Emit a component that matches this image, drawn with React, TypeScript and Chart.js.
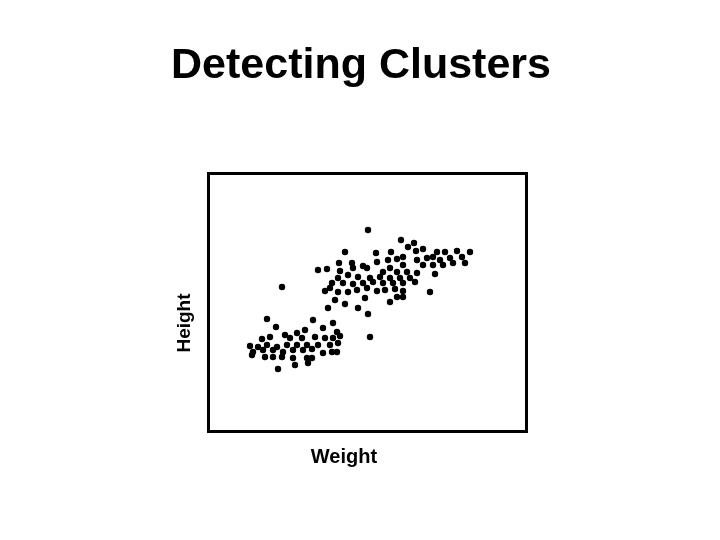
import React, { useEffect, useRef } from "react";
import { Chart, registerables } from "chart.js";

Chart.register(...registerables);

const titleText = "Detecting Clusters";
const xLabel = "Weight";
const yLabel = "Height";

// Weight / height in arbitrary units
const weights: number[] = [
  368, 401, 414, 345, 376, 391, 408, 423, 416, 403, 437, 445, 457, 470,
  318, 327, 339, 352, 363, 377, 388, 397, 417, 427, 433, 440, 450, 462, 465, 453, 443, 433, 423, 403,
  390, 383, 397, 407, 417, 435, 340, 353, 367, 338, 348, 358, 370, 380, 390, 400, 410,
  332, 343, 353, 363, 373, 383, 393, 403, 415, 325, 330, 338, 348, 357, 367, 377, 385, 395, 403, 430,
  335, 345, 365, 390, 397, 403, 328, 358, 368, 370, 282,
  267, 313, 333, 276, 323, 305, 337, 285, 297, 270, 262, 290, 302, 315, 325, 333, 340,
  250, 258, 267, 277, 287, 297, 307, 318, 330, 338, 253, 263, 273, 283, 293, 303, 312, 332, 323, 337,
  252, 265, 273, 282, 293, 307, 295, 312, 308, 278,
];
const heights: number[] = [
  310, 300, 297, 288, 287, 288, 293, 291, 289, 283, 288, 288, 289, 288,
  270, 271, 277, 277, 274, 278, 280, 281, 280, 282, 283, 280, 282, 283, 277, 277, 275, 275, 275, 275,
  272, 268, 268, 268, 267, 266, 269, 272, 272, 262, 265, 263, 262, 263, 262, 262, 262,
  257, 257, 256, 257, 258, 257, 257, 257, 258, 249, 252, 248, 248, 250, 252, 249, 250, 251, 249, 248,
  240, 236, 242, 238, 243, 243, 232, 232, 226, 203, 253,
  221, 220, 217, 213, 212, 210, 208, 205, 207, 203, 201, 202, 202, 203, 202, 202, 204,
  194, 193, 195, 193, 195, 195, 195, 195, 195, 197, 188, 190, 190, 188, 190, 190, 191, 188, 187, 188,
  185, 183, 183, 183, 182, 182, 175, 182, 177, 171,
];

export default function App() {
  const ref = useRef<HTMLCanvasElement>(null);
  useEffect(() => {
    document.body.style.margin = "0";
    const canvas = ref.current!;
    const decor = {
      id: "decor",
      afterDraw(chart: any) {
        const { ctx, chartArea } = chart;
        ctx.save();
        ctx.strokeStyle = "#000";
        ctx.lineWidth = 3;
        ctx.strokeRect(chartArea.left - 1.5, chartArea.top - 1.5, chartArea.right - chartArea.left + 3, chartArea.bottom - chartArea.top + 3);
        ctx.fillStyle = "#000";
        ctx.textAlign = "center";
        ctx.textBaseline = "alphabetic";
        ctx.font = "bold 43px 'Liberation Sans', Arial, sans-serif";
        ctx.fillText(titleText, 361, 78);
        ctx.font = "bold 20px 'Liberation Sans', Arial, sans-serif";
        ctx.fillText(xLabel, 344, 463);
        ctx.font = "bold 19px 'Liberation Sans', Arial, sans-serif";
        ctx.translate(190, 323);
        ctx.rotate(-Math.PI / 2);
        ctx.fillText(yLabel, 0, 0);
        ctx.restore();
      },
    };
    const chart = new Chart(canvas, {
      type: "scatter",
      data: {
        datasets: [
          {
            data: weights.map((w, i) => ({ x: w, y: heights[i] })),
            backgroundColor: "#000",
            borderColor: "#000",
            pointRadius: 3.2,
            borderWidth: 0,
          },
        ],
      },
      options: {
        animation: false,
        responsive: false,
        layout: { padding: { left: 210, right: 195, top: 175, bottom: 110 } },
        plugins: { legend: { display: false }, tooltip: { enabled: false }, title: { display: false } },
        scales: {
          x: { type: "linear", display: false, min: 210, max: 525 },
          y: { type: "linear", display: false, min: 110, max: 365 },
        },
      },
      plugins: [decor],
    });
    return () => chart.destroy();
  }, []);
  return (
    <div style={{ width: 720, height: 540, background: "#fff" }}>
      <canvas ref={ref} width={720} height={540} />
    </div>
  );
}
